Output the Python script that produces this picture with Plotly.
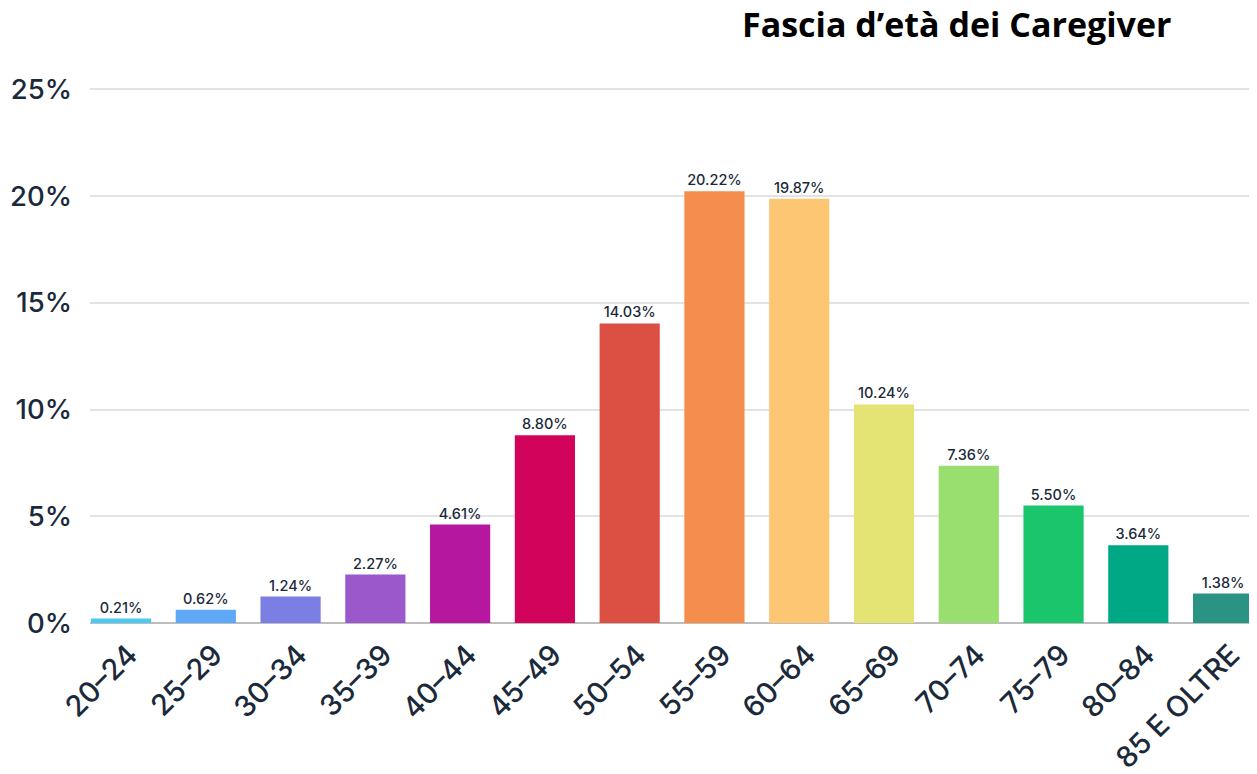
import plotly.graph_objects as go

categories = ["20–24", "25–29", "30–34", "35–39", "40–44", "45–49", "50–54",
              "55–59", "60–64", "65–69", "70–74", "75–79", "80–84", "85 E OLTRE"]
values = [0.21, 0.62, 1.24, 2.27, 4.61, 8.80, 14.03, 20.22, 19.87, 10.24, 7.36, 5.50, 3.64, 1.38]
labels = [f"{v:.2f}%" for v in values]
colors = ["#4CC9F0", "#5EA8F7", "#7B7FE3", "#9B58CA", "#B5179E", "#D1035B", "#DC5044",
          "#F58E4D", "#FDC673", "#E4E475", "#98DF6F", "#1BC56B", "#00A886", "#2A9384"]
yticks = [0, 5, 10, 15, 20, 25]
ytick_text = ["0%", "5%", "10%", "15%", "20%", "25%"]

ink = "#1B2A3A"
fig = go.Figure(go.Bar(
    x=list(range(len(categories))), y=values,
    marker=dict(color=colors, line=dict(width=0)),
    width=0.71,
    text=labels, textposition="outside", cliponaxis=False,
    textfont=dict(family="Inter, Lato, sans-serif", size=14.5, color=ink, weight=500),
))

fig.update_layout(
    width=1257, height=774,
    plot_bgcolor="white", paper_bgcolor="white",
    margin=dict(l=82, r=8, t=77, b=159),
    showlegend=False,
    title=dict(text="<b>Fascia d’età dei Caregiver</b>",
               font=dict(family="Open Sans, sans-serif", size=34, color="#000000"),
               x=734/1257, xanchor="left", xref="container",
               y=1-17/774, yanchor="middle", yref="container"),
)
fig.update_xaxes(
    range=[-0.366, 13.4], automargin=False,
    tickmode="array", tickvals=list(range(len(categories))), ticktext=categories,
    tickangle=-45, ticklabelshift=8, ticklabelstandoff=8,
    tickfont=dict(family="Inter, Lato, sans-serif", size=29, color=ink, weight=500),
    showgrid=False, zeroline=False, showline=False, ticks="",
)
fig.update_yaxes(
    range=[0, 25.2], automargin=False,
    tickmode="array", tickvals=yticks, ticktext=ytick_text,
    tickfont=dict(family="Inter, Lato, sans-serif", size=27.5, color=ink, weight=500),
    showgrid=True, gridcolor="#E3E3E3", gridwidth=2,
    zeroline=True, zerolinecolor="#BDBDBD", zerolinewidth=2,
    ticks="", ticklabelstandoff=17,
)

fig.write_html("out.html")
